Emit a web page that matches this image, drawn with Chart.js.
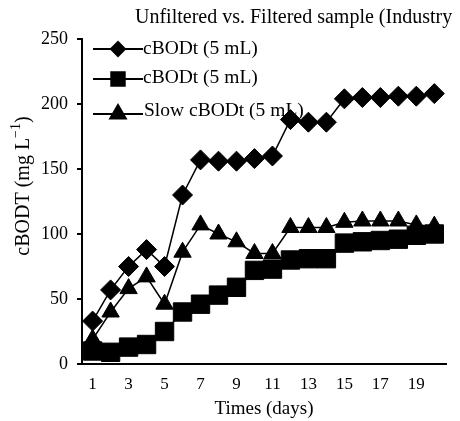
<!DOCTYPE html>
<html>
<head>
<meta charset="utf-8">
<script src="https://cdn.jsdelivr.net/npm/chart.js@4/dist/chart.umd.min.js"></script>
<style>
  html, body { margin: 0; padding: 0; background: #fff; }
  #wrap { position: relative; width: 460px; height: 421px; }
</style>
</head>
<body>
<div id="wrap"><canvas id="c" width="460" height="421"></canvas></div>
<script>
const titleText = 'Unfiltered vs. Filtered sample (Industry';
const xAxisTitle = 'Times (days)';
const yAxisTitleMain = 'cBODT (mg L';
const yAxisTitleSup = '\u22121';
const yAxisTitleEnd = ')';
const days = [1, 2, 3, 4, 5, 6, 7, 8, 9, 10, 11, 12, 13, 14, 15, 16, 17, 18, 19, 20];
const xTickLabels = [1, 3, 5, 7, 9, 11, 13, 15, 17, 19];
const yTickLabels = [0, 50, 100, 150, 200, 250];
const seriesNames = ['cBODt (5 mL)', 'cBODt (5 mL)', 'Slow cBODt (5 mL)'];
const unfiltered = [33, 57, 75, 88, 75, 130, 157, 156, 156, 158, 160, 188, 186, 186, 204, 205, 205, 206, 206, 208];
const filtered = [10, 9, 13, 15, 25, 40, 46, 53, 59, 72, 73, 80, 81, 81, 93, 94, 95, 96, 99, 100];
const slow = [19, 40, 58, 67, 46, 86, 107, 100, 94, 85, 85, 105, 105, 105, 109, 110, 110, 110, 107, 106];

const SERIF = "'Liberation Serif', 'Times New Roman', serif";

function pts(arr) { return days.map((d, i) => ({ x: d, y: arr[i] })); }

const styles = [
  { pointStyle: 'rectRot', radius: 10, legendRadius: 7 },
  { pointStyle: 'rect', radius: 13, legendRadius: 9.5 },
  { pointStyle: 'triangle', radius: 10, legendRadius: 9 }
];

const overlay = {
  id: 'overlay',
  afterDraw(chart) {
    const ctx = chart.ctx;
    ctx.save();
    ctx.fillStyle = '#000';
    // title
    ctx.font = '20px ' + SERIF;
    ctx.textAlign = 'left';
    ctx.textBaseline = 'middle';
    ctx.fillText(titleText, 135, 18);
    // y axis title (rotated)
    ctx.save();
    ctx.translate(24, 186);
    ctx.rotate(-Math.PI / 2);
    ctx.font = '20px ' + SERIF;
    ctx.textBaseline = 'middle';
    const w1 = ctx.measureText(yAxisTitleMain).width;
    ctx.font = '14px ' + SERIF;
    const w2 = ctx.measureText(yAxisTitleSup).width;
    ctx.font = '20px ' + SERIF;
    const w3 = ctx.measureText(yAxisTitleEnd).width;
    let x0 = -(w1 + w2 + w3) / 2;
    ctx.textAlign = 'left';
    ctx.fillText(yAxisTitleMain, x0, 0);
    ctx.font = '14px ' + SERIF;
    ctx.fillText(yAxisTitleSup, x0 + w1, -8);
    ctx.font = '20px ' + SERIF;
    ctx.fillText(yAxisTitleEnd, x0 + w1 + w2, 0);
    ctx.restore();
    // legend
    const lineYs = [49, 79, 114];
    const textYs = [49, 78, 111];
    chart.data.datasets.forEach((ds, i) => {
      const y = lineYs[i];
      ctx.strokeStyle = '#000';
      ctx.lineWidth = 2;
      ctx.beginPath();
      ctx.moveTo(93, y);
      ctx.lineTo(143, y);
      ctx.stroke();
      ctx.fillStyle = '#000';
      Chart.helpers.drawPoint(ctx, {
        pointStyle: styles[i].pointStyle,
        radius: styles[i].legendRadius,
        rotation: 0,
        borderWidth: 1
      }, 118, y);
      ctx.fill();
      ctx.fillStyle = '#000';
      ctx.font = '19.5px ' + SERIF;
      ctx.textAlign = 'left';
      ctx.textBaseline = 'middle';
      ctx.fillText(seriesNames[i], i === 2 ? 144 : 143, textYs[i]);
    });
    ctx.restore();
  }
};

const datasets = [unfiltered, filtered, slow].map((arr, i) => ({
  label: seriesNames[i],
  data: pts(arr),
  borderColor: '#000',
  backgroundColor: '#000',
  borderWidth: 1.5,
  pointStyle: styles[i].pointStyle,
  pointRadius: styles[i].radius,
  pointHoverRadius: styles[i].radius,
  pointBackgroundColor: '#000',
  pointBorderColor: '#000',
  pointBorderWidth: 1,
  tension: 0,
  fill: false
}));

new Chart(document.getElementById('c'), {
  type: 'line',
  data: { datasets },
  plugins: [overlay],
  options: {
    responsive: false,
    animation: false,
    events: [],
    layout: { padding: { top: 39, left: 0, right: 0, bottom: 0 } },
    plugins: { legend: { display: false }, title: { display: false }, tooltip: { enabled: false } },
    scales: {
      x: {
        type: 'linear',
        min: 0.41,
        max: 20.65,
        afterFit(s) { s.height = 57; },
        afterBuildTicks(s) { s.ticks = xTickLabels.map(v => ({ value: v })); },
        grid: { display: false, drawTicks: false },
        border: { display: true, color: '#000', width: 2 },
        ticks: {
          color: '#000',
          font: { family: SERIF, size: 17 },
          padding: 10,
          maxRotation: 0,
          autoSkip: false
        },
        title: {
          display: true,
          text: xAxisTitle,
          color: '#000',
          font: { family: SERIF, size: 19 },
          padding: { top: 0, bottom: 1 }
        }
      },
      y: {
        type: 'linear',
        min: 0,
        max: 250,
        afterFit(s) { s.width = 82; },
        afterBuildTicks(s) { s.ticks = yTickLabels.map(v => ({ value: v })); },
        grid: { drawOnChartArea: false, drawTicks: true, tickLength: 5, color: '#000', lineWidth: 2 },
        border: { display: true, color: '#000', width: 2 },
        ticks: {
          color: '#000',
          font: { family: SERIF, size: 18 },
          padding: 9
        },
        title: { display: false }
      }
    }
  }
});
</script>
</body>
</html>
